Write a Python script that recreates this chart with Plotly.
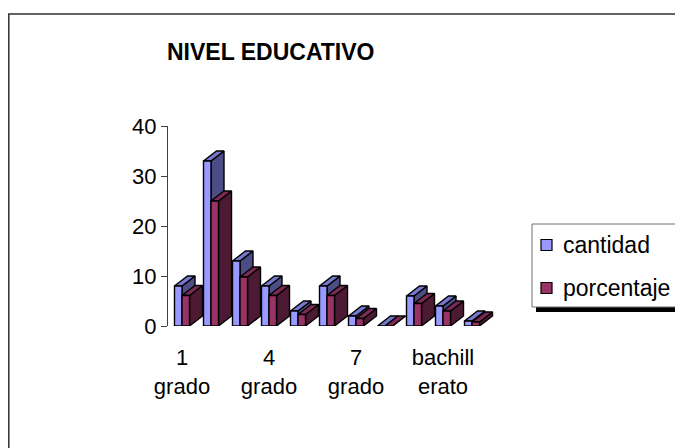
import plotly.graph_objects as go

# ---------------- data ----------------
categorias = ["1 grado", "2 grado", "3 grado", "4 grado", "5 grado", "6 grado",
              "7 grado", "8 grado", "9 grado", "bachillerato", "universitario"]
cantidad = [8, 33, 13, 8, 3, 8, 2, 0, 6, 4, 1]
porcentaje = [6.1, 25.0, 9.8, 6.1, 2.3, 6.1, 1.5, 0, 4.5, 3.0, 0.8]
series_names = ["cantidad", "porcentaje"]
tick_idx = [0, 3, 6, 9]
tick_text = ["1<br>grado", "4<br>grado", "7<br>grado", "bachill<br>erato"]
y_ticks = [0, 10, 20, 30, 40]

# ---------------- style / geometry ----------------
W, H = 683, 448
OX, OY = 8, 8          # page body margin offset
FONT = "Liberation Sans, Arial, sans-serif"
colors = {
    "cantidad":   {"front": "#9999FF", "top": "#7777D0", "side": "#4D4D85"},
    "porcentaje": {"front": "#993366", "top": "#7D2A55", "side": "#4D1A33"},
}


def pxx(p):
    return (p - OX) / W


def pxy(p):
    return 1 - (p - OY) / H


# target page-pixel layout of the plot area
px_left, px_right = 168, 510
px_zero, px_top = 326, 126
cat0_px, step_px = 182, 29
bar_px, depth_x_px, depth_y_px = 7.5, 13, 10

ux = step_px
uy = (px_zero - px_top) / 40.0
x_range = [(px_left - cat0_px) / ux, (px_right - cat0_px) / ux]
bw = bar_px / ux
dx = depth_x_px / ux
dy = depth_y_px / uy

fig = go.Figure()


def poly(xs, ys, color):
    fig.add_trace(go.Scatter(
        x=xs + [xs[0]], y=ys + [ys[0]], mode="lines", fill="toself",
        fillcolor=color, line=dict(color="black", width=1.4),
        hoverinfo="skip", showlegend=False))


all_values = [cantidad, porcentaje]
for i in range(len(categorias)):
    for s, name in enumerate(series_names):
        v = all_values[s][i]
        xl = i - bw + s * bw
        xr = xl + bw
        c = colors[name]
        poly([xr, xr + dx, xr + dx, xr], [0, dy, v + dy, v], c["side"])
        poly([xl, xr, xr + dx, xl + dx], [v, v, v + dy, v + dy], c["top"])
        if v > 0:
            poly([xl, xr, xr, xl], [0, 0, v, v], c["front"])

fig.update_layout(
    width=W, height=H, autosize=False,
    margin=dict(l=0, r=0, t=0, b=0, pad=0, autoexpand=False),
    paper_bgcolor="white", plot_bgcolor="rgba(0,0,0,0)",
    font=dict(family=FONT, color="black"),
    showlegend=False,
    xaxis=dict(
        domain=[pxx(px_left), pxx(px_right)], range=x_range, automargin=False,
        tickmode="array", tickvals=tick_idx, ticktext=tick_text,
        showgrid=False, zeroline=False, showline=False,
        ticks="outside", ticklen=12, tickcolor="rgba(0,0,0,0)",
        tickfont=dict(size=22, family=FONT, color="black"),
    ),
    yaxis=dict(
        domain=[pxy(px_zero), pxy(px_top)], range=[0, 40], automargin=False,
        tickmode="array", tickvals=y_ticks,
        showgrid=False, zeroline=False, showline=True,
        linecolor="#404040", linewidth=1,
        ticks="outside", ticklen=6, tickcolor="#404040",
        tickfont=dict(size=22, family=FONT, color="black"),
    ),
)

shapes = []
# chart frame
shapes.append(dict(type="rect", xref="paper", yref="paper",
                   x0=pxx(8.8), x1=1.05, y0=-0.05, y1=pxy(14),
                   line=dict(color="#303030", width=1.5), fillcolor="rgba(0,0,0,0)",
                   layer="below"))
# legend shadow and box
shapes.append(dict(type="rect", xref="paper", yref="paper",
                   x0=pxx(536), x1=1.05, y0=pxy(312), y1=pxy(228),
                   line=dict(width=0), fillcolor="black"))
shapes.append(dict(type="rect", xref="paper", yref="paper",
                   x0=pxx(532), x1=1.05, y0=pxy(307), y1=pxy(224),
                   line=dict(color="#707070", width=1), fillcolor="white"))
legend_rows = [245, 288]
annotations = []
for k, name in enumerate(series_names):
    yc = legend_rows[k]
    shapes.append(dict(type="rect", xref="paper", yref="paper",
                       x0=pxx(541), x1=pxx(552), y0=pxy(yc + 5.5), y1=pxy(yc - 5.5),
                       line=dict(color="black", width=1.2), fillcolor=colors[name]["front"]))
    annotations.append(dict(xref="paper", yref="paper", x=pxx(561), y=pxy(yc),
                            xanchor="left", yanchor="middle", showarrow=False,
                            text=name, font=dict(size=23, family=FONT, color="black")))
annotations.append(dict(xref="paper", yref="paper", x=pxx(270), y=pxy(52),
                        xanchor="center", yanchor="middle", showarrow=False,
                        text="<b>NIVEL EDUCATIVO</b>",
                        font=dict(size=23, family=FONT, color="black")))
fig.update_layout(shapes=shapes, annotations=annotations)

fig.write_html("out.html")
